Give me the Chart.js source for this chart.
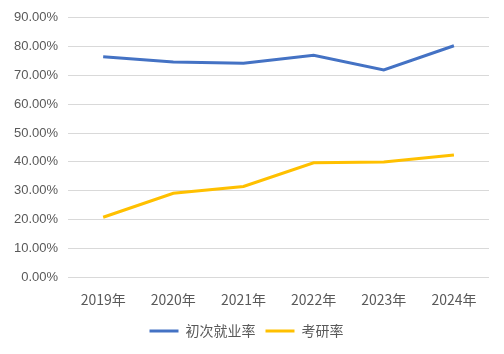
<!DOCTYPE html>
<html><head><meta charset="utf-8">
<script src="https://cdn.jsdelivr.net/npm/chart.js@4"></script>
<style>html,body{margin:0;padding:0;background:#fff}#w{width:504px;height:354px}</style>
</head><body><div id="w"><canvas id="c"></canvas></div>
<script>
const categories = ['2019年','2020年','2021年','2022年','2023年','2024年'];
const employmentRate = [76.5, 74.7, 74.2, 77.0, 71.9, 80.3];
const gradRate = [20.8, 29.1, 31.5, 39.7, 40.0, 42.4];
const seriesNames = ['初次就业率','考研率'];
const FONT = "'Noto Sans CJK SC', 'Liberation Sans', sans-serif";
new Chart(document.getElementById('c'), {
  type: 'line',
  data: {
    labels: categories,
    datasets: [
      {label: seriesNames[0], data: employmentRate, borderColor: '#4472C4', backgroundColor: '#4472C4', borderWidth: 3, pointRadius: 0, tension: 0},
      {label: seriesNames[1], data: gradRate, borderColor: '#FFC000', backgroundColor: '#FFC000', borderWidth: 3, pointRadius: 0, tension: 0}
    ]
  },
  options: {
    responsive: true, maintainAspectRatio: false, animation: false,
    layout: {padding: {top: 8, right: 15, left: 4, bottom: 6}},
    plugins: {
      legend: {position: 'bottom', labels: {boxWidth: 29, boxHeight: 3, color: '#595959', font: {family: FONT, size: 14}, padding: 10,
        generateLabels: (chart) => Chart.defaults.plugins.legend.labels.generateLabels(chart).map(l => Object.assign(l, {lineWidth: 0}))}},
      tooltip: {enabled: false}
    },
    scales: {
      x: {offset: true, grid: {display: false}, border: {display: false},
          ticks: {color: '#595959', font: {family: FONT, size: 14}, padding: 6}},
      y: {min: 0, max: 90, grid: {color: '#d9d9d9', drawTicks: false}, border: {display: false},
          ticks: {stepSize: 10, color: '#595959', padding: 10, font: {family: "'Liberation Sans', sans-serif", size: 13},
                  callback: v => v.toFixed(2) + '%'}}
    }
  }
});
</script></body></html>
